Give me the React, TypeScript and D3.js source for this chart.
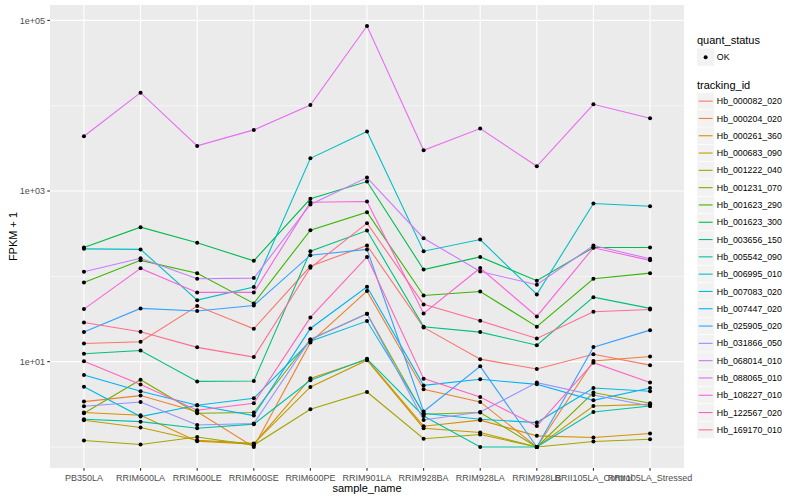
import React, { useEffect, useRef } from 'react'
import * as d3 from 'd3'

const samples = [
  'PB350LA', 'RRIM600LA', 'RRIM600LE', 'RRIM600SE', 'RRIM600PE', 'RRIM901LA',
  'RRIM928BA', 'RRIM928LA', 'RRIM928LB', 'RRII105LA_Control', 'RRII105LA_Stressed'
]

const trackingIds = [
  'Hb_000082_020', 'Hb_000204_020', 'Hb_000261_360', 'Hb_000683_090', 'Hb_001222_040',
  'Hb_001231_070', 'Hb_001623_290', 'Hb_001623_300', 'Hb_003656_150', 'Hb_005542_090',
  'Hb_006995_010', 'Hb_007083_020', 'Hb_007447_020', 'Hb_025905_020', 'Hb_031866_050',
  'Hb_068014_010', 'Hb_088065_010', 'Hb_108227_010', 'Hb_122567_020', 'Hb_169170_010'
]

// ggplot hue palette, 20 levels
const hueColors = [
  '#F8766D', '#EA8331', '#D89000', '#C09B00', '#A3A500', '#7CAE00', '#39B600', '#00BB4E',
  '#00BF7D', '#00C1A3', '#00BFC4', '#00BAE0', '#00B0F6', '#35A2FF', '#9590FF', '#C77CFF',
  '#E76BF3', '#FA62DB', '#FF62BC', '#FF6C91'
]

// FPKM + 1, one value per sample
const hb000082020 = [16.3, 17.1, 44.8, 24.3, 131, 230, 25.2, 10.7, 8.2, 12.2, 9.1]
const hb000204020 = [3.4, 4.0, 2.58, 1, 16.8, 67.1, 4.74, 3.37, 1, 10.2, 11.5]
const hb000261360 = [2.53, 2.35, 1.17, 1.08, 6.37, 10.6, 1.75, 2.06, 1.35, 1.29, 1.44]
const hb000683090 = [2.06, 1.69, 1.2, 1.1, 5.05, 10.4, 1.66, 1.48, 1, 3.02, 3.16]
const hb001222040 = [1.19, 1.07, 1.31, 1.05, 2.76, 4.41, 1.25, 1.4, 1, 1.16, 1.23]
const hb001231070 = [2.48, 6.15, 2.48, 2.53, 18.2, 36.5, 2.42, 2.53, 1, 4.34, 3.25]
const hb001623290 = [84.9, 154, 109, 48.2, 348, 565, 59.7, 66.5, 25.7, 93.7, 109]
const hb001623300 = [218, 377, 247, 152, 811, 1291, 120, 169, 88.8, 218, 218]
const hb003656150 = [12.4, 13.5, 5.87, 5.93, 197, 344, 25.7, 22.2, 15.6, 57, 42.1]
const hb005542090 = [2.11, 1.98, 1.66, 1.85, 6.04, 10.8, 2.31, 1, 1, 2.57, 3.02]
const hb006995010 = [210, 207, 52.6, 74.8, 2420, 4975, 197, 270, 61.4, 714, 664]
const hb007083020 = [5.09, 2.27, 3.08, 3.72, 17.3, 29.9, 2.48, 2.11, 1.93, 4.91, 4.49]
const hb007447020 = [6.97, 4.49, 3.08, 2.33, 24.5, 75.5, 5.27, 6.21, 5.42, 3.52, 4.91]
const hb025905020 = [22.3, 42.1, 39.2, 45.6, 177, 207, 2.6, 8.81, 1, 14.8, 23.4]
const hb031866050 = [3.0, 3.37, 1.81, 1.88, 18.2, 36.5, 2.07, 2.57, 5.68, 4.06, 3.02]
const hb068014010 = [113, 163, 93.7, 95.3, 695, 1439, 280, 114, 79.7, 230, 161]
const hb088065010 = [4385, 14230, 3383, 5210, 10210, 85900, 3006, 5395, 1951, 10380, 7120]
const hb108227010 = [41.3, 124, 64.8, 64.8, 740, 753, 36.8, 125, 33.9, 216, 154]
const hb122567020 = [10.1, 5.38, 2.69, 3.25, 33, 169, 6.32, 3.85, 1.76, 9.73, 5.68]
const hb169170010 = [28.8, 22.4, 14.7, 11.3, 126, 420, 46.9, 30.1, 18.7, 38.5, 40.9]

const fpkmPlusOne = [
  hb000082020, hb000204020, hb000261360, hb000683090, hb001222040,
  hb001231070, hb001623290, hb001623300, hb003656150, hb005542090,
  hb006995010, hb007083020, hb007447020, hb025905020, hb031866050,
  hb068014010, hb088065010, hb108227010, hb122567020, hb169170010
]

const yBreaks = [1e1, 1e3, 1e5]
const yBreakLabels = ['1e+01', '1e+03', '1e+05']
const yMinorBreaks = [1e0, 1e2, 1e4]

const FONT = "'Liberation Sans', Arial, Helvetica, sans-serif"

export default function App() {
  const svgRef = useRef<SVGSVGElement>(null)

  useEffect(() => {
    if (!svgRef.current) return
    const svg = d3.select(svgRef.current)
    svg.selectAll('*').remove()

    const panel = { left: 50, top: 5, right: 684, bottom: 468 }

    // log scale with ggplot's 5% expansion
    const all = fpkmPlusOne.flat()
    const lo = Math.log10(d3.min(all) as number)
    const hi = Math.log10(d3.max(all) as number)
    const pad = (hi - lo) * 0.05
    const y = d3.scaleLog()
      .domain([Math.pow(10, lo - pad), Math.pow(10, hi + pad)])
      .range([panel.bottom, panel.top])

    const x = d3.scalePoint<string>()
      .domain(samples)
      .range([panel.left, panel.right])
      .padding(0.6)

    svg.append('rect')
      .attr('width', 800).attr('height', 500).attr('fill', 'white')

    // Panel + grid
    svg.append('rect')
      .attr('x', panel.left).attr('y', panel.top)
      .attr('width', panel.right - panel.left).attr('height', panel.bottom - panel.top)
      .attr('fill', '#EBEBEB')

    const grid = svg.append('g')
    grid.selectAll('.minor')
      .data(yMinorBreaks)
      .enter().append('line')
      .attr('x1', panel.left).attr('x2', panel.right)
      .attr('y1', d => y(d)).attr('y2', d => y(d))
      .attr('stroke', 'white').attr('stroke-width', 0.55)
    grid.selectAll('.major')
      .data(yBreaks)
      .enter().append('line')
      .attr('x1', panel.left).attr('x2', panel.right)
      .attr('y1', d => y(d)).attr('y2', d => y(d))
      .attr('stroke', 'white').attr('stroke-width', 1.1)
    grid.selectAll('.vert')
      .data(samples)
      .enter().append('line')
      .attr('x1', d => x(d) as number).attr('x2', d => x(d) as number)
      .attr('y1', panel.top).attr('y2', panel.bottom)
      .attr('stroke', 'white').attr('stroke-width', 1.1)

    // Lines
    const line = d3.line<number>()
      .x((_, i) => x(samples[i]) as number)
      .y(d => y(d))

    svg.append('g')
      .selectAll('path')
      .data(fpkmPlusOne)
      .enter().append('path')
      .attr('d', d => line(d))
      .attr('fill', 'none')
      .attr('stroke', (_, i) => hueColors[i])
      .attr('stroke-width', 1.1)

    // Points
    const pts = fpkmPlusOne.flatMap(vals => vals.map((v, i) => ({ s: samples[i], v })))
    svg.append('g')
      .selectAll('circle')
      .data(pts)
      .enter().append('circle')
      .attr('cx', d => x(d.s) as number)
      .attr('cy', d => y(d.v))
      .attr('r', 2)
      .attr('fill', 'black')

    // Y axis
    const yAxis = svg.append('g')
    yAxis.selectAll('line')
      .data(yBreaks)
      .enter().append('line')
      .attr('x1', panel.left - 2.75).attr('x2', panel.left)
      .attr('y1', d => y(d)).attr('y2', d => y(d))
      .attr('stroke', '#333333').attr('stroke-width', 1.1)
    yAxis.selectAll('text')
      .data(yBreaks)
      .enter().append('text')
      .attr('x', panel.left - 5)
      .attr('y', d => y(d))
      .attr('dy', '0.35em')
      .attr('text-anchor', 'end')
      .attr('fill', '#4D4D4D')
      .style('font-family', FONT).style('font-size', '9px')
      .text((_, i) => yBreakLabels[i])

    // X axis
    const xAxis = svg.append('g')
    xAxis.selectAll('line')
      .data(samples)
      .enter().append('line')
      .attr('x1', d => x(d) as number).attr('x2', d => x(d) as number)
      .attr('y1', panel.bottom).attr('y2', panel.bottom + 2.75)
      .attr('stroke', '#333333').attr('stroke-width', 1.1)
    xAxis.selectAll('text')
      .data(samples)
      .enter().append('text')
      .attr('x', d => x(d) as number)
      .attr('y', panel.bottom + 13)
      .attr('text-anchor', 'middle')
      .attr('fill', '#4D4D4D')
      .style('font-family', FONT).style('font-size', '9px')
      .text(d => d)

    svg.append('text')
      .attr('x', (panel.left + panel.right) / 2)
      .attr('y', 492)
      .attr('text-anchor', 'middle')
      .style('font-family', FONT).style('font-size', '11px')
      .text('sample_name')

    svg.append('text')
      .attr('transform', `translate(17,${(panel.top + panel.bottom) / 2}) rotate(-90)`)
      .attr('text-anchor', 'middle')
      .style('font-family', FONT).style('font-size', '11px')
      .text('FPKM + 1')

    // Legends
    const legX = 697
    const keySize = 17.3

    svg.append('text')
      .attr('x', legX).attr('y', 44)
      .style('font-family', FONT).style('font-size', '11px')
      .text('quant_status')
    svg.append('rect')
      .attr('x', legX).attr('y', 48.5).attr('width', keySize).attr('height', keySize)
      .attr('fill', '#F2F2F2')
    svg.append('circle')
      .attr('cx', legX + keySize / 2).attr('cy', 48.5 + keySize / 2).attr('r', 2)
      .attr('fill', 'black')
    svg.append('text')
      .attr('x', legX + keySize + 2.5).attr('y', 48.5 + keySize / 2)
      .attr('dy', '0.35em')
      .style('font-family', FONT).style('font-size', '8.8px')
      .text('OK')

    svg.append('text')
      .attr('x', legX).attr('y', 89)
      .style('font-family', FONT).style('font-size', '11px')
      .text('tracking_id')

    const keyTop = 92.5
    const keys = svg.append('g')
      .selectAll('g')
      .data(trackingIds)
      .enter().append('g')
      .attr('transform', (_, i) => `translate(${legX},${keyTop + i * keySize})`)
    keys.append('rect')
      .attr('width', keySize).attr('height', keySize)
      .attr('fill', '#F2F2F2').attr('stroke', 'white').attr('stroke-width', 0.5)
    keys.append('line')
      .attr('x1', 1.7).attr('x2', keySize - 1.7)
      .attr('y1', keySize / 2).attr('y2', keySize / 2)
      .attr('stroke', (_, i) => hueColors[i]).attr('stroke-width', 1.1)
    keys.append('text')
      .attr('x', keySize + 2.5).attr('y', keySize / 2)
      .attr('dy', '0.35em')
      .style('font-family', FONT).style('font-size', '8.8px')
      .text(d => d)
  }, [])

  return (
    <svg
      ref={svgRef}
      width={800}
      height={500}
      style={{ position: 'absolute', left: 0, top: 0 }}
    />
  )
}
